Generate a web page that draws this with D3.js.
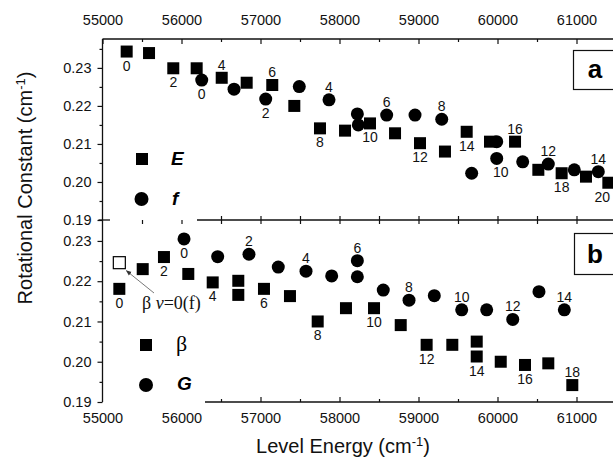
<!DOCTYPE html>
<html><head><meta charset="utf-8">
<script src="https://cdn.jsdelivr.net/npm/d3@7"></script>
<style>
body{margin:0;background:#fff;}
svg{display:block;font-family:"Liberation Sans",Arial,sans-serif;}
</style>
</head><body>
<svg id="chart" width="613" height="457"></svg>
<script>
// ---------- data ----------
// Panel a : E state (squares) and f state (circles)
const eEnergy = [55306,55589,55896,56192,56509,56825,57149,57428,57753,58070,58386,58703,59019,59335,59610,59905,60222,60517,60812,61120,61403];
const eB      = [0.2343,0.2339,0.2299,0.2299,0.2274,0.2261,0.2255,0.2200,0.2141,0.2135,0.2154,0.2128,0.2102,0.2080,0.2132,0.2106,0.2106,0.2032,0.2023,0.2014,0.1998];
const eLabel  = ["0","","2","","4","","6","","8","","10","","12","","14","","16","","18","","20"];

const fEnergy = [56256,56665,57066,57491,57867,58226,58238,58597,58956,59294,59673,59990,59990,60319,60643,60972,61276];
const fB      = [0.2268,0.2244,0.2218,0.2251,0.2216,0.2179,0.2150,0.2176,0.2176,0.2165,0.2023,0.2106,0.2062,0.2053,0.2047,0.2032,0.2027];
const fLabel  = ["0","","2","","4","","","6","","8","","","10","","12","","14"];

// Panel b : beta state (squares) and G state (circles)
const betaEnergy = [55213,55509,55778,56086,56395,56719,56719,57044,57373,57724,58082,58437,58775,59103,59428,59737,59737,60041,60348,60643,60947];
const betaB      = [0.2181,0.2230,0.2260,0.2218,0.2197,0.2201,0.2166,0.2181,0.2163,0.2100,0.2133,0.2133,0.2091,0.2042,0.2042,0.2050,0.2013,0.2000,0.1992,0.1996,0.1942];
const betaLabel  = ["0","","2","","4","","","6","","8","","10","","12","","","14","","16","","18"];

const betaF0Energy = [55213];
const betaF0B      = [0.2246];

const gEnergy = [56032,56458,56854,57225,57576,57901,58226,58226,58554,58880,59200,59547,59863,60193,60525,60846];
const gB      = [0.2305,0.2261,0.2267,0.2235,0.2225,0.2213,0.2251,0.2211,0.2178,0.2153,0.2164,0.2129,0.2129,0.2105,0.2174,0.2129];
const gLabel  = ["0","","2","","4","","6","","","8","","10","","12","","14"];

const xMajorTicks = [55000,56000,57000,58000,59000,60000,61000];
const xMinorTicks = [55500,56500,57500,58500,59500,60500,61500];
const yMajorTicks = [0.19,0.20,0.21,0.22,0.23];
const yMinorTicksA = [0.195,0.205,0.215,0.225,0.235];
const yMinorTicksB = [0.195,0.205,0.215,0.225];

// ---------- drawing ----------
const svg = d3.select("#chart");
const x  = d3.scaleLinear().domain([55000, 61500]).range([102.5, 616]);
const yA = d3.scaleLinear().domain([0.19, 0.2376]).range([220, 39]);
const yB = d3.scaleLinear().domain([0.19, 0.2352]).range([402, 220]);

const X0 = 102.5, TOP = 39, MID = 220, BOT = 402, XR = 616;
const tickFont = g => g.selectAll("text").attr("font-size", 14.5).attr("font-family", "'Liberation Sans',Arial,sans-serif").attr("fill", "#111");
const clean = g => { g.select(".domain").remove(); g.selectAll("line").attr("stroke", "#111").attr("stroke-width", 1.2); };

// top axis (panel a)
svg.append("g").attr("transform", `translate(0,${TOP})`)
  .call(d3.axisTop(x).tickValues(xMajorTicks).tickSizeInner(-5).tickSizeOuter(0).tickPadding(14).tickFormat(d3.format("d")))
  .call(clean).call(tickFont);
svg.append("g").attr("transform", `translate(0,${TOP})`)
  .call(d3.axisTop(x).tickValues(xMinorTicks).tickSizeInner(-3).tickSizeOuter(0).tickFormat(""))
  .call(clean);
svg.append("line").attr("x1", X0).attr("x2", XR).attr("y1", TOP).attr("y2", TOP).attr("stroke", "#111").attr("stroke-width", 1.3);

// shared middle line : panel a ticks (up), panel b ticks (down)
svg.append("g").attr("transform", `translate(0,${MID})`)
  .call(d3.axisBottom(x).tickValues(xMajorTicks.concat(xMinorTicks).filter(v => v >= 56500)).tickSizeInner(-4).tickSizeOuter(0).tickFormat(""))
  .call(clean);
svg.append("g").attr("transform", `translate(0,${MID})`)
  .call(d3.axisTop(x).tickValues(xMajorTicks.concat(xMinorTicks).filter(v => v > 55000)).tickSizeInner(-4).tickSizeOuter(0).tickFormat(""))
  .call(clean);
svg.append("line").attr("x1", X0 - 4).attr("x2", 110).attr("y1", MID).attr("y2", MID).attr("stroke", "#111").attr("stroke-width", 1.3);
svg.append("line").attr("x1", 197).attr("x2", XR).attr("y1", MID).attr("y2", MID).attr("stroke", "#111").attr("stroke-width", 1.3);

// bottom axis (panel b)
svg.append("g").attr("transform", `translate(0,${BOT})`)
  .call(d3.axisBottom(x).tickValues(xMajorTicks).tickSizeInner(-5).tickSizeOuter(0).tickPadding(11).tickFormat(d3.format("d")))
  .call(clean).call(tickFont)
  .call(g => g.selectAll(".tick line").filter(d => d < 56500).remove());
svg.append("g").attr("transform", `translate(0,${BOT})`)
  .call(d3.axisBottom(x).tickValues(xMinorTicks.filter(v => v >= 56500)).tickSizeInner(-3).tickSizeOuter(0).tickFormat(""))
  .call(clean);
svg.append("line").attr("x1", 205).attr("x2", XR).attr("y1", BOT).attr("y2", BOT).attr("stroke", "#111").attr("stroke-width", 1.3);

// left axes
svg.append("g").attr("transform", `translate(${X0},0)`)
  .call(d3.axisLeft(yA).tickValues(yMajorTicks).tickSizeInner(5).tickSizeOuter(0).tickPadding(6).tickFormat(d3.format(".2f")))
  .call(clean).call(tickFont);
svg.append("g").attr("transform", `translate(${X0},0)`)
  .call(d3.axisLeft(yA).tickValues(yMinorTicksA).tickSizeInner(3).tickSizeOuter(0).tickFormat(""))
  .call(clean);
svg.append("g").attr("transform", `translate(${X0},0)`)
  .call(d3.axisLeft(yB).tickValues(yMajorTicks).tickSizeInner(5).tickSizeOuter(0).tickPadding(6).tickFormat(d3.format(".2f")))
  .call(clean).call(tickFont);
svg.append("g").attr("transform", `translate(${X0},0)`)
  .call(d3.axisLeft(yB).tickValues(yMinorTicksB).tickSizeInner(3).tickSizeOuter(0).tickFormat(""))
  .call(clean);
svg.append("line").attr("x1", X0).attr("x2", X0).attr("y1", TOP).attr("y2", BOT).attr("stroke", "#111").attr("stroke-width", 1.3);

// markers
const SQ = 12, R = 6.5;
function squares(xs, ys, yScale, open) {
  svg.append("g").selectAll("rect").data(xs).join("rect")
    .attr("x", (d, i) => x(d) - SQ / 2).attr("y", (d, i) => yScale(ys[i]) - SQ / 2)
    .attr("width", SQ).attr("height", SQ)
    .attr("fill", open ? "#fff" : "#000").attr("stroke", "#000").attr("stroke-width", open ? 1.2 : 0);
}
function circles(xs, ys, yScale) {
  svg.append("g").selectAll("circle").data(xs).join("circle")
    .attr("cx", d => x(d)).attr("cy", (d, i) => yScale(ys[i])).attr("r", R).attr("fill", "#000");
}
// label placement: "above" set, otherwise below
const placeAbove = {
  e: new Set(["4","6","16"]),
  f: new Set(["4","6","8","12","14"]),
  beta: new Set(["18"]),
  g: new Set(["2","4","6","8","10","12","14"])
};
function labelDx(key, l) {
  if (key === "f" && l === "10") return 4;
  if (key === "e" && l === "20") return -6;
  return 0;
}
function labels(xs, ys, labs, yScale, key) {
  svg.append("g").selectAll("text").data(labs.map((l, i) => ({ l, i })).filter(d => d.l !== "")).join("text")
    .attr("x", d => x(xs[d.i]) + labelDx(key, d.l))
    .attr("y", d => yScale(ys[d.i]) + (placeAbove[key].has(d.l) ? -8 : 19))
    .attr("text-anchor", "middle").attr("font-size", 14).attr("fill", "#111")
    .text(d => d.l);
}
squares(eEnergy, eB, yA, false);
circles(fEnergy, fB, yA);
labels(eEnergy, eB, eLabel, yA, "e");
labels(fEnergy, fB, fLabel, yA, "f");

squares(betaEnergy, betaB, yB, false);
squares(betaF0Energy, betaF0B, yB, true);
circles(gEnergy, gB, yB);
labels(betaEnergy, betaB, betaLabel, yB, "beta");
labels(gEnergy, gB, gLabel, yB, "g");

// annotation arrow for beta v=0(f)
const defs = svg.append("defs");
defs.append("marker").attr("id", "arr").attr("viewBox", "0 0 10 10").attr("refX", 9).attr("refY", 5)
  .attr("markerWidth", 7).attr("markerHeight", 7).attr("orient", "auto")
  .append("path").attr("d", "M0,1 L10,5 L0,9 Z").attr("fill", "#333");
svg.append("line").attr("x1", 154).attr("y1", 293)
  .attr("x2", x(betaF0Energy[0]) + 7).attr("y2", yB(betaF0B[0]) + 8)
  .attr("stroke", "#555").attr("stroke-width", 0.8).attr("marker-end", "url(#arr)");
const ann = svg.append("text").attr("x", 142).attr("y", 309).attr("font-family", "'Liberation Serif','Times New Roman',serif").attr("font-size", 18).attr("fill", "#111");
ann.append("tspan").text("β ");
ann.append("tspan").attr("font-style", "italic").text("ν");
ann.append("tspan").text("=0(f)");

// legends
svg.append("rect").attr("x", 136).attr("y", 153).attr("width", SQ).attr("height", SQ).attr("fill", "#000");
svg.append("circle").attr("cx", 141.5).attr("cy", 199).attr("r", 7).attr("fill", "#000");
svg.append("text").attr("x", 171).attr("y", 165).attr("font-size", 19).attr("font-weight", "bold").attr("font-style", "italic").text("E");
svg.append("text").attr("x", 172).attr("y", 205).attr("font-size", 19).attr("font-weight", "bold").attr("font-style", "italic").text("f");

svg.append("rect").attr("x", 140).attr("y", 339).attr("width", SQ).attr("height", SQ).attr("fill", "#000");
svg.append("circle").attr("cx", 146).attr("cy", 385).attr("r", 7).attr("fill", "#000");
svg.append("text").attr("x", 176).attr("y", 351).attr("font-size", 22).attr("font-family", "'Liberation Serif','Times New Roman',serif").text("β");
svg.append("text").attr("x", 177).attr("y", 390).attr("font-size", 19).attr("font-weight", "bold").attr("font-style", "italic").text("G");

// panel boxes
svg.append("rect").attr("x", 573.5).attr("y", 50.5).attr("width", 60).attr("height", 39).attr("fill", "#fff").attr("stroke", "#111").attr("stroke-width", 1.2);
svg.append("text").attr("x", 595).attr("y", 78).attr("text-anchor", "middle").attr("font-size", 26).attr("font-weight", "bold").text("a");
svg.append("rect").attr("x", 574.5).attr("y", 233.5).attr("width", 60).attr("height", 41).attr("fill", "#fff").attr("stroke", "#111").attr("stroke-width", 1.2);
svg.append("text").attr("x", 595).attr("y", 263).attr("text-anchor", "middle").attr("font-size", 26).attr("font-weight", "bold").text("b");

// axis titles
const xt = svg.append("text").attr("x", 343).attr("y", 453).attr("text-anchor", "middle").attr("font-size", 20).attr("fill", "#111");
xt.append("tspan").text("Level Energy (cm");
xt.append("tspan").attr("font-size", 13).attr("dy", -7).text("-1");
xt.append("tspan").attr("dy", 7).text(")");

const yt = svg.append("text").attr("transform", "translate(32,188) rotate(-90)").attr("text-anchor", "middle").attr("font-size", 20).attr("fill", "#111");
yt.append("tspan").text("Rotational Constant (cm");
yt.append("tspan").attr("font-size", 13).attr("dy", -7).text("-1");
yt.append("tspan").attr("dy", 7).text(")");
</script>
</body></html>
